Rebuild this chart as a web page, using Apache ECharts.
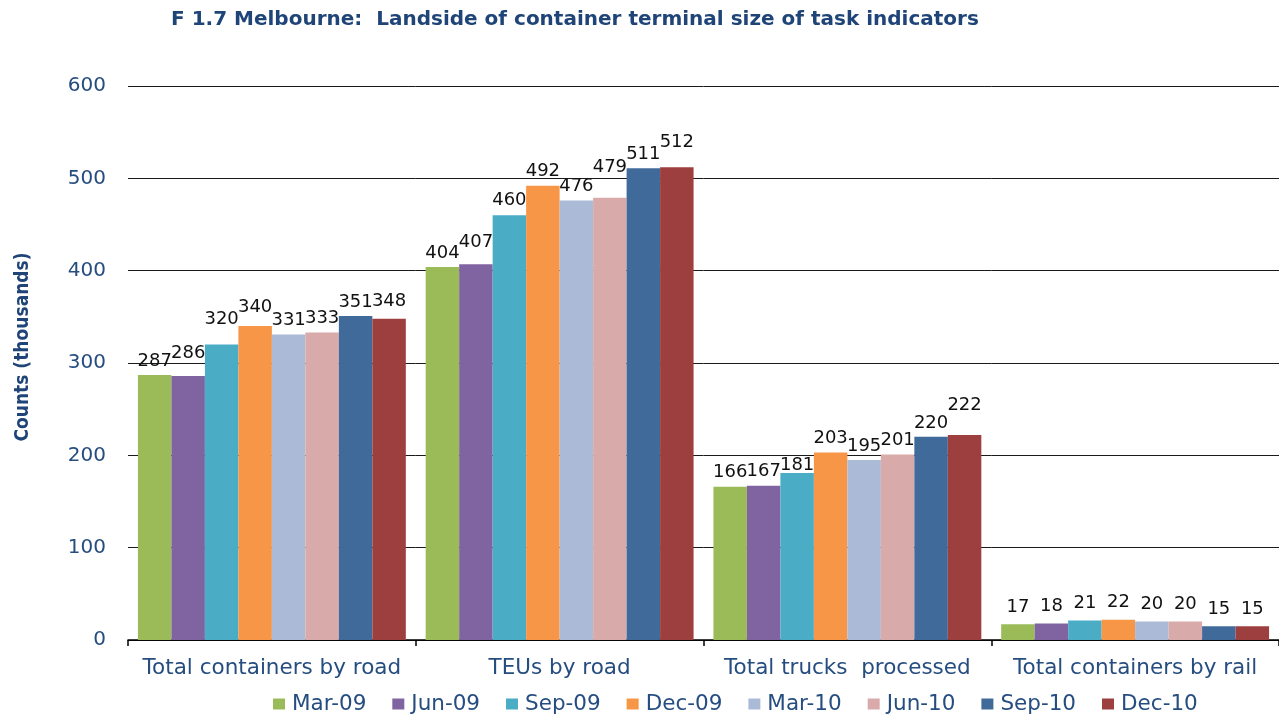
<!DOCTYPE html>
<html>
<head>
<meta charset="utf-8">
<script src="https://cdn.jsdelivr.net/npm/echarts@6/dist/echarts.min.js"></script>
<style>
html,body{margin:0;padding:0;background:#fff;}
#chart{width:1279px;height:718px;}
</style>
</head>
<body>
<div id="chart"></div>
<script>
// ---- data ----
const categories = ['Total containers by road', 'TEUs by road', 'Total trucks  processed', 'Total containers by rail'];
const seriesNames = ['Mar-09', 'Jun-09', 'Sep-09', 'Dec-09', 'Mar-10', 'Jun-10', 'Sep-10', 'Dec-10'];
const mar09 = [287, 404, 166, 17];
const jun09 = [286, 407, 167, 18];
const sep09 = [320, 460, 181, 21];
const dec09 = [340, 492, 203, 22];
const mar10 = [331, 476, 195, 20];
const jun10 = [333, 479, 201, 20];
const sep10 = [351, 511, 220, 15];
const dec10 = [348, 512, 222, 15];
const yTicks = [0, 100, 200, 300, 400, 500, 600];

// ---- styling ----
const colors = ['#9BBB59', '#8064A2', '#4BACC6', '#F79646', '#AABAD7', '#D9AAAA', '#406A9A', '#9E3F3F'];
// extra upward shift of data labels (px), per series per category (label collision avoidance in original)
const labelLift = [
  [0, 0, 0, 3],
  [9, 8, 0, 3],
  [11, 1, -6, 3],
  [5, 0, 0, 3],
  [0, 0, 0, 3],
  [0, 16, 0, 3],
  [0, 0, 0, 3],
  [3, 11, 16, 3]
];
const allValues = [mar09, jun09, sep09, dec09, mar10, jun10, sep10, dec10];
const textBlue = '#264D80';

const chart = echarts.init(document.getElementById('chart'), null, {renderer: 'canvas'});
const series = allValues.map((vals, si) => ({
  name: seriesNames[si],
  type: 'bar',
  barGap: '0%',
  barCategoryGap: '6.9%',
  itemStyle: {color: colors[si]},
  label: {
    show: true,
    position: 'top',
    distance: 5,
    color: '#111',
    fontFamily: 'DejaVu Sans',
    fontSize: 18
  },
  data: vals.map((v, ci) => ({
    value: v,
    label: {offset: [0, -labelLift[si][ci]]}
  }))
}));

chart.setOption({
  animation: false,
  color: colors,
  title: {
    text: 'F 1.7 Melbourne:  Landside of container terminal size of task indicators',
    left: 166,
    top: 5,
    textStyle: {
      color: '#1F4478',
      fontFamily: 'DejaVu Sans',
      fontWeight: 'bold',
      fontSize: 20
    }
  },
  legend: {
    data: seriesNames,
    left: 273,
    top: 693,
    padding: 0,
    icon: 'rect',
    itemWidth: 12,
    itemHeight: 11,
    itemGap: 26,
    textStyle: {color: textBlue, fontFamily: 'DejaVu Sans', fontSize: 21.5, padding: [0, 0, 0, 2]}
  },
  grid: {left: 128, top: 86, width: 1158, bottom: 78, containLabel: false},
  xAxis: {
    type: 'category',
    data: categories,
    axisLine: {show: true, lineStyle: {color: '#000', width: 1.5}},
    axisTick: {show: true, length: 6, lineStyle: {color: '#000', width: 1.5}},
    axisLabel: {color: textBlue, fontFamily: 'DejaVu Sans', fontSize: 21.5, margin: 17, interval: 0, hideOverlap: false}
  },
  yAxis: {
    type: 'value',
    min: 0,
    max: 600,
    interval: 100,
    name: 'Counts (thousands)',
    nameLocation: 'middle',
    nameGap: 95,
    nameRotate: 90,
    nameTextStyle: {color: '#1F4478', fontFamily: 'DejaVu Sans Condensed', fontWeight: 'bold', fontSize: 19, padding: [0, 0, 0, 32]},
    axisLine: {show: false},
    axisTick: {show: false},
    axisLabel: {color: textBlue, fontFamily: 'DejaVu Sans', fontSize: 20, margin: 22},
    splitLine: {lineStyle: {color: '#1a1a1a', width: 1}}
  },
  series: series
});
</script>
</body>
</html>
